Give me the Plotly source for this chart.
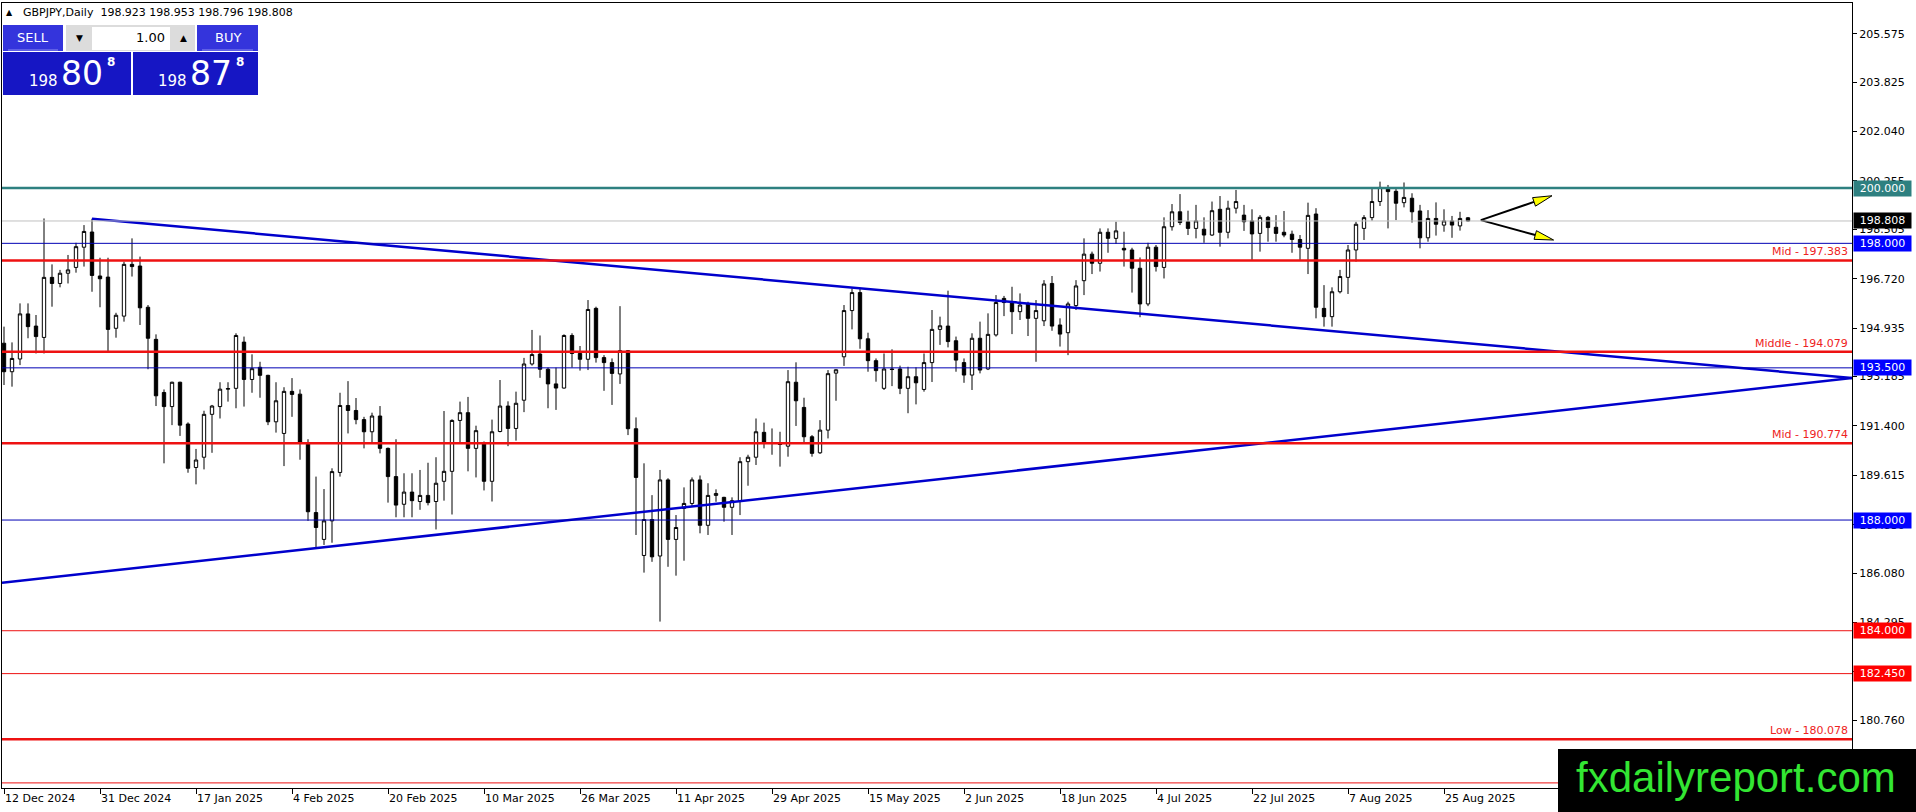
import math
import plotly.graph_objects as go

# GBPJPY daily bars, 12 Dec 2024 .. 28 Aug 2025
opens = [194.39, 193.36, 193.82, 195.45, 195.01, 194.60, 196.77, 196.55, 196.92, 197.13,
         197.86, 198.41, 196.82, 196.78, 194.93, 195.37, 197.24, 197.18, 195.69, 194.53,
         192.61, 192.10, 192.98, 191.47, 189.90, 190.27, 191.82, 192.10, 192.73, 192.76,
         194.43, 193.08, 193.52, 193.23, 191.55, 191.13, 192.65, 192.55, 190.80, 188.27,
         187.30, 187.97, 189.72, 192.14, 191.96, 191.63, 191.19, 191.76, 190.59, 189.57,
         188.57, 189.01, 188.67, 188.89, 188.67, 189.40, 189.76, 191.60, 191.88, 190.59,
         190.78, 189.40, 191.20, 192.12, 191.31, 192.33, 193.64, 194.00, 193.45, 192.92,
         192.77, 194.67, 194.02, 193.81, 195.65, 193.87, 193.69, 193.28, 194.12, 191.30,
         186.72, 188.02, 186.70, 189.45, 187.30, 188.42, 188.60, 189.45, 187.81, 188.89,
         188.82, 188.46, 188.70, 190.11, 190.27, 191.17, 190.80, 190.78, 190.67, 192.98,
         192.07, 191.01, 190.43, 191.25, 193.31, 193.90, 195.57, 196.22, 194.55, 193.76,
         192.76, 193.46, 193.46, 192.76, 193.18, 192.72, 193.69, 194.89, 195.01, 194.48,
         193.69, 193.24, 194.57, 193.46, 194.69, 196.01, 195.89, 195.53, 195.81, 195.29,
         195.20, 196.55, 195.05, 194.77, 195.75, 196.65, 197.61, 197.28, 198.40, 198.18,
         197.82, 197.76, 197.10, 195.81, 197.86, 197.13, 198.60, 199.14, 198.78, 198.54,
         198.51, 198.30, 199.23, 198.40, 199.27, 199.02, 198.81, 198.36, 198.94, 198.58,
         198.40, 198.33, 198.14, 197.82, 199.06, 195.65, 195.35, 196.25, 196.77, 197.76,
         198.54, 198.93, 199.51, 199.99, 199.88, 199.47, 199.63, 199.17, 198.20, 198.90,
         198.66, 198.81, 198.63, 198.923]
highs = [194.99, 194.42, 195.83, 195.83, 195.41, 198.90, 197.24, 197.04, 197.58, 198.02,
         198.66, 198.89, 197.48, 197.48, 195.49, 197.34, 198.18, 197.52, 195.77, 194.71,
         192.72, 193.00, 193.00, 191.53, 190.57, 191.95, 192.16, 192.98, 192.98, 194.75,
         194.63, 193.99, 193.72, 193.25, 192.98, 192.80, 193.13, 192.72, 190.92, 189.57,
         189.12, 189.87, 192.60, 193.02, 192.41, 191.73, 191.88, 192.12, 190.62, 190.92,
         189.69, 189.69, 189.81, 190.07, 190.27, 191.94, 191.64, 192.28, 192.45, 191.41,
         190.84, 191.63, 193.06, 192.29, 192.64, 193.86, 194.87, 194.67, 193.51, 193.51,
         194.71, 194.75, 194.29, 195.95, 195.71, 193.96, 193.84, 195.73, 194.14, 191.71,
         190.05, 188.90, 189.81, 189.51, 188.18, 189.18, 189.54, 189.61, 189.33, 189.11,
         188.84, 188.82, 190.27, 190.36, 191.67, 191.52, 191.31, 191.19, 193.42, 193.70,
         192.42, 191.07, 191.61, 193.42, 193.45, 195.77, 196.37, 196.36, 194.77, 193.84,
         194.02, 194.17, 193.58, 193.54, 193.52, 194.02, 195.59, 195.35, 196.29, 194.63,
         193.84, 194.75, 195.17, 195.47, 196.13, 196.10, 196.43, 196.19, 195.89, 195.95,
         196.67, 196.82, 195.29, 195.89, 196.67, 198.18, 197.70, 198.54, 198.54, 198.78,
         198.42, 197.84, 197.49, 198.02, 197.94, 198.94, 199.42, 199.78, 199.18, 199.39,
         198.94, 199.51, 199.71, 199.54, 199.93, 199.39, 199.23, 199.02, 198.99, 199.02,
         199.17, 198.46, 198.30, 199.47, 199.27, 196.49, 196.41, 197.04, 197.94, 198.78,
         199.02, 200.02, 200.23, 200.11, 200.02, 200.20, 199.81, 199.39, 199.20, 199.48,
         199.23, 198.99, 199.14, 198.953]
lows = [192.88, 192.82, 193.60, 194.57, 194.02, 194.02, 195.71, 196.41, 196.55, 196.94,
        197.16, 196.25, 195.69, 194.11, 194.59, 195.17, 196.80, 195.05, 193.45, 192.12,
        190.05, 191.43, 191.04, 189.71, 189.29, 189.83, 190.43, 191.67, 192.28, 192.04,
        192.10, 192.60, 192.42, 191.43, 191.16, 189.95, 191.73, 190.18, 187.97, 187.01,
        187.10, 187.18, 189.57, 191.13, 191.46, 190.59, 190.80, 190.41, 188.63, 188.10,
        188.10, 188.10, 188.37, 188.53, 187.66, 188.70, 188.20, 190.82, 189.76, 189.54,
        189.07, 188.67, 191.17, 190.67, 190.87, 191.90, 193.58, 193.14, 192.04, 191.98,
        192.75, 193.51, 193.40, 193.42, 193.69, 192.67, 192.16, 192.92, 191.07, 187.46,
        186.10, 186.49, 184.33, 186.31, 185.99, 186.53, 188.51, 187.52, 187.46, 188.66,
        187.94, 187.46, 188.18, 189.24, 189.99, 190.59, 190.36, 189.93, 190.29, 191.40,
        190.77, 190.29, 190.39, 190.95, 192.31, 193.57, 194.89, 194.19, 193.36, 193.00,
        192.70, 192.84, 192.55, 191.86, 192.18, 192.64, 192.99, 194.33, 194.24, 193.36,
        192.96, 192.70, 193.30, 193.42, 194.63, 195.37, 194.72, 195.23, 194.65, 193.72,
        195.01, 194.84, 194.27, 193.96, 195.59, 196.13, 196.89, 196.98, 197.66, 197.98,
        197.16, 196.22, 195.33, 195.73, 196.98, 196.73, 198.46, 198.66, 198.30, 198.18,
        198.02, 198.27, 197.88, 198.18, 199.08, 198.45, 197.40, 197.70, 198.06, 198.06,
        198.22, 197.66, 197.40, 196.89, 195.29, 194.99, 194.99, 196.19, 196.17, 197.34,
        198.12, 198.82, 199.35, 198.54, 198.84, 199.30, 198.75, 197.82, 198.06, 198.28,
        198.42, 198.20, 198.46, 198.796]
closes = [193.36, 193.84, 195.45, 194.99, 194.63, 196.77, 196.55, 196.92, 197.04, 197.88,
          198.43, 196.84, 196.72, 194.89, 195.40, 197.24, 197.16, 195.67, 194.57, 192.49,
          192.10, 192.98, 191.43, 189.87, 190.17, 191.82, 192.12, 192.73, 192.75, 194.67,
          193.08, 193.47, 193.23, 191.55, 192.31, 192.65, 192.54, 190.80, 188.30, 187.73,
          187.97, 189.75, 192.14, 191.96, 191.63, 191.19, 191.76, 190.59, 189.57, 188.54,
          189.01, 188.70, 188.89, 188.63, 189.33, 189.76, 191.60, 191.88, 190.59, 191.23,
          189.40, 191.19, 192.12, 191.31, 192.22, 193.64, 193.98, 193.45, 192.92, 192.77,
          194.67, 194.02, 193.81, 195.61, 193.87, 193.69, 193.30, 194.12, 191.30, 189.54,
          188.02, 186.67, 189.45, 187.30, 187.73, 188.60, 189.45, 187.81, 188.89, 188.96,
          188.46, 188.70, 190.11, 190.27, 191.19, 190.80, 190.78, 190.73, 193.00, 192.31,
          191.01, 190.41, 191.25, 193.29, 193.43, 195.57, 196.22, 194.55, 193.76, 193.40,
          193.46, 193.44, 192.76, 193.18, 192.96, 193.69, 194.89, 195.02, 194.45, 193.78,
          193.24, 194.57, 193.42, 194.71, 195.86, 195.86, 195.53, 195.77, 195.29, 195.57,
          196.53, 195.01, 194.72, 195.81, 196.46, 197.61, 197.28, 198.40, 198.18, 198.45,
          197.76, 197.10, 195.81, 197.86, 197.16, 198.60, 199.14, 198.75, 198.54, 198.81,
          198.30, 199.18, 198.40, 199.27, 199.51, 198.78, 198.34, 198.94, 198.57, 198.36,
          198.30, 198.14, 197.86, 199.01, 195.69, 195.35, 196.25, 196.80, 197.76, 198.69,
          198.93, 199.51, 200.02, 199.87, 199.45, 199.66, 199.14, 198.20, 198.90, 198.69,
          198.81, 198.66, 198.90, 198.808]

bars = list(range(len(closes)))

# time axis labels (one every 12 bars, as MT4 draws them)
tick_bars = [0, 12, 24, 36, 48, 60, 72, 84, 96, 108, 120, 132, 144, 156, 168, 180]
tick_dates = ['12 Dec 2024', '31 Dec 2024', '17 Jan 2025', '4 Feb 2025', '20 Feb 2025',
              '10 Mar 2025', '26 Mar 2025', '11 Apr 2025', '29 Apr 2025', '15 May 2025',
              '2 Jun 2025', '18 Jun 2025', '4 Jul 2025', '22 Jul 2025', '7 Aug 2025',
              '25 Aug 2025']

price_ticks = [205.575, 203.825, 202.040, 200.255, 198.505, 196.720, 194.935, 193.185,
               191.400, 189.615, 187.830, 186.080, 184.295, 182.510, 180.760, 178.975]

# horizontal levels drawn on the chart
level_prices = [200.000, 198.808, 198.000, 197.383, 194.079, 193.500, 190.774, 188.000,
                184.000, 182.450, 180.078, 178.500]
level_kinds = ['teal', 'price', 'blue', 'red2', 'red2', 'blue', 'red2', 'blue',
               'red1', 'red1', 'red2', 'red1']

# levels with a coloured price box on the right scale
box_prices = [200.000, 198.808, 198.000, 193.500, 188.000, 184.000, 182.450]
box_kinds = ['teal', 'price', 'blue', 'blue', 'blue', 'red1', 'red1']

# levels with a text label at the right edge
text_prices = [197.383, 194.079, 190.774, 180.078]
text_labels = ['Mid - 197.383', 'Middle - 194.079', 'Mid - 190.774', 'Low - 180.078']

# triangle trend lines (bar index, price)
upper_line_x = [11, 231]
upper_line_y = [198.89, 193.13]
lower_line_x = [-0.25, 231]
lower_line_y = [185.73, 193.13]

# projection arrows
arrow_start = (184.6, 198.84)
arrow_tips = [(193.5, 199.72), (193.7, 198.12)]

header = 'GBPJPY,Daily  198.923 198.953 198.796 198.808'

# ---------------------------------------------------------------------------
W, H = 1916, 812
ML, MR, MT, MB = 2, 64, 3, 24
PX_BAR = 8.0
PX_PRICE = 27.67
X_RANGE = [-0.25, 231]
Y_RANGE = [200 - (H - MB - 188) / PX_PRICE, 200 + (188 - MT) / PX_PRICE]

styles = {
    'teal': dict(color='#2e8080', width=2.5),
    'price': dict(color='#c0c0c0', width=1),
    'blue': dict(color='#0000b4', width=1),
    'red1': dict(color='#ee1111', width=1),
    'red2': dict(color='#ee1111', width=2.5),
}
box_bg = {'teal': '#2e8080', 'price': '#000000', 'blue': '#0000ff', 'red1': '#ff0000'}
FONT = 'DejaVu Sans'


def X(px):
    return (px - ML) / (W - ML - MR)


def Y(py):
    return (H - MB - py) / (H - MT - MB)


fig = go.Figure()

fig.add_trace(go.Candlestick(
    x=bars, open=opens, high=highs, low=lows, close=closes,
    increasing=dict(fillcolor='white', line=dict(color='black', width=1)),
    decreasing=dict(fillcolor='black', line=dict(color='black', width=1)),
    whiskerwidth=0, hoverinfo='skip', showlegend=False,
))

for lx, ly in [(upper_line_x, upper_line_y), (lower_line_x, lower_line_y)]:
    fig.add_trace(go.Scatter(x=lx, y=ly, mode='lines', showlegend=False, hoverinfo='skip',
                             line=dict(color='#0000cc', width=2.5)))

shapes = []
for p, k in zip(level_prices, level_kinds):
    shapes.append(dict(type='line', xref='paper', x0=0, x1=1, yref='y', y0=p, y1=p,
                       line=styles[k], layer='above'))

# arrows: black shaft + yellow head
for tip in arrow_tips:
    dx = (tip[0] - arrow_start[0]) * PX_BAR
    dy = -(tip[1] - arrow_start[1]) * PX_PRICE
    n = math.hypot(dx, dy)
    ux, uy = dx / n, dy / n
    L, hw = 19, 4.5
    bx, by = -ux * L, -uy * L
    c1 = (bx - uy * hw, by + ux * hw)
    c2 = (bx + uy * hw, by - ux * hw)

    def to_data(off):
        return tip[0] + off[0] / PX_BAR, tip[1] - off[1] / PX_PRICE
    b = to_data((bx, by))
    fig.add_trace(go.Scatter(x=[arrow_start[0], b[0]], y=[arrow_start[1], b[1]], mode='lines',
                             showlegend=False, hoverinfo='skip',
                             line=dict(color='black', width=2)))
    p1, p2 = to_data(c1), to_data(c2)
    path = 'M {} {} L {} {} L {} {} Z'.format(tip[0], tip[1], p1[0], p1[1], p2[0], p2[1])
    shapes.append(dict(type='path', xref='x', yref='y', path=path, fillcolor='#ffff00',
                       line=dict(color='black', width=1), layer='above'))

# one-click trading panel (top left)
panel = [
    (3, 25, 63, 51, '#3434dc'),
    (66, 25, 195, 51, '#dcdcdc'),
    (92, 27, 170, 50, '#ffffff'),
    (197, 25, 258, 51, '#3434dc'),
    (3, 52, 131, 95, '#1616c4'),
    (133, 52, 258, 95, '#1616c4'),
]
for x0, y0, x1, y1, c in panel:
    shapes.append(dict(type='rect', xref='paper', yref='paper', x0=X(x0), x1=X(x1),
                       y0=Y(y1), y1=Y(y0), fillcolor=c, line=dict(width=0), layer='above'))
for x0, x1 in [(8, 58), (202, 253)]:
    shapes.append(dict(type='line', xref='paper', yref='paper', x0=X(x0), x1=X(x1),
                       y0=Y(50), y1=Y(50), line=dict(color='#8c8cf0', width=1), layer='above'))

# watermark box
shapes.append(dict(type='rect', xref='paper', yref='paper', x0=X(1558), x1=X(W + 2),
                   y0=Y(H + 2), y1=Y(749), fillcolor='black', line=dict(width=0), layer='above'))

ann = []
for p, k in zip(box_prices, box_kinds):
    ann.append(dict(xref='paper', x=1, xanchor='left', xshift=1, yref='y', y=p,
                    yanchor='middle', text='{:.3f}'.format(p), showarrow=False,
                    bgcolor=box_bg[k], width=55, height=13, borderpad=1,
                    font=dict(family=FONT, size=11, color='white')))
for p, t in zip(text_prices, text_labels):
    ann.append(dict(xref='paper', x=1, xanchor='right', xshift=-2, yref='y', y=p,
                    yanchor='bottom', yshift=0, text=t, showarrow=False,
                    font=dict(family=FONT, size=11, color='#ee2222')))


def label(px, py, text, size, color='white', anchor='center', bold=False):
    if bold:
        text = '<b>' + text + '</b>'
    ann.append(dict(xref='paper', yref='paper', x=X(px), y=Y(py), xanchor=anchor,
                    yanchor='middle', text=text, showarrow=False,
                    font=dict(family=FONT, size=size, color=color)))


label(4, 13, '▲', 8, 'black', 'left')
label(21, 13, header, 11, 'black', 'left')
label(33, 38, 'SELL', 13)
label(228, 38, 'BUY', 13)
label(79, 38, '▼', 9, 'black')
label(183, 38, '▲', 9, 'black')
label(167, 38, '1.00', 13, 'black', 'right')
for base, big, x0 in [('198', '80', 27), ('198', '87', 156)]:
    label(x0, 81, base, 15, 'white', 'left')
    label(x0 + 32, 74, big, 33, 'white', 'left')
    label(x0 + 78, 62, '8', 12, 'white', 'left', bold=True)

ann.append(dict(xref='paper', yref='paper', x=X(1736), y=Y(777), xanchor='center',
                yanchor='middle', text='fxdailyreport.com', showarrow=False,
                font=dict(family='Liberation Sans', size=42, color='#33e633')))

fig.update_layout(
    width=W, height=H,
    margin=dict(l=ML, r=MR, t=MT, b=MB),
    paper_bgcolor='white', plot_bgcolor='white',
    showlegend=False, boxgap=0.4,
    shapes=shapes, annotations=ann,
    font=dict(family=FONT, size=11, color='black'),
    xaxis=dict(range=X_RANGE, tickvals=tick_bars, ticktext=tick_dates, ticks='outside',
               ticklen=5, tickcolor='black', ticklabelposition='outside right',
               showgrid=False, zeroline=False, showline=True, linecolor='black',
               linewidth=1, mirror=True, rangeslider=dict(visible=False),
               tickfont=dict(family=FONT, size=11, color='black')),
    yaxis=dict(range=Y_RANGE, side='right', tickvals=price_ticks,
               ticktext=['{:.3f}'.format(v) for v in price_ticks], ticks='outside',
               ticklen=4, tickcolor='black', showgrid=False, zeroline=False,
               showline=True, linecolor='black', linewidth=1, mirror=True,
               tickfont=dict(family=FONT, size=11, color='black')),
)

# the page keeps the browser's default 8px body margin otherwise
fig.write_html('out.html', config={'displayModeBar': False},
               post_script="document.body.style.margin='0';"
               "document.body.style.overflow='hidden';")
